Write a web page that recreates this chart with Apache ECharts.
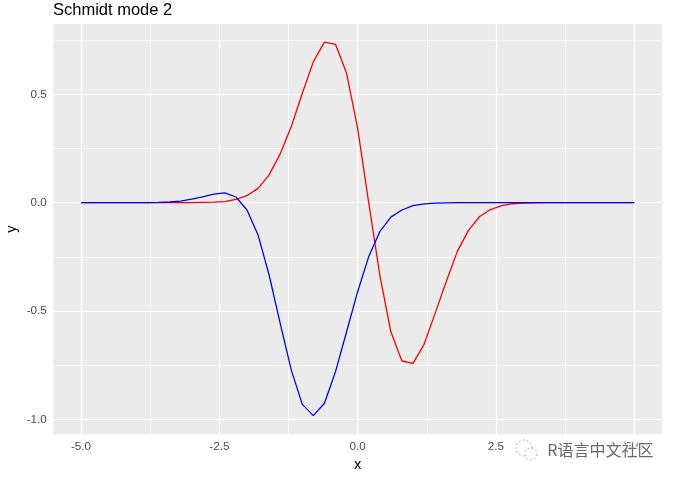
<!DOCTYPE html>
<html>
<head>
<meta charset="utf-8">
<script src="https://cdn.jsdelivr.net/npm/echarts@6/dist/echarts.min.js"></script>
<style>
html,body{margin:0;padding:0;background:#fff;}
#chart{width:674px;height:478px;}
</style>
</head>
<body>
<div id="chart"></div>
<script>
// x positions of the sampled points
var xValues = [-5.0,-4.8,-4.6,-4.4,-4.2,-4.0,-3.8,-3.6,-3.4,-3.2,-3.0,-2.8,-2.6,-2.4,-2.2,-2.0,-1.8,-1.6,-1.4,-1.2,-1.0,-0.8,-0.6,-0.4,-0.2,0.0,0.2,0.4,0.6,0.8,1.0,1.2,1.4,1.6,1.8,2.0,2.2,2.4,2.6,2.8,3.0,3.2,3.4,3.6,3.8,4.0,4.2,4.4,4.6,4.8,5.0];
// red curve
var redValues = [0,0,0,0,0,0,0,0,0,0,0.000,0.001,0.002,0.005,0.015,0.032,0.066,0.128,0.225,0.351,0.505,0.651,0.741,0.731,0.597,0.343,0.000,-0.334,-0.596,-0.731,-0.742,-0.654,-0.511,-0.365,-0.226,-0.129,-0.065,-0.032,-0.014,-0.005,-0.002,-0.001,0,0,0,0,0,0,0,0,0];
// blue curve
var blueValues = [0,0,0,0,0,0,0,0.001,0.003,0.007,0.016,0.027,0.039,0.045,0.026,-0.034,-0.149,-0.334,-0.557,-0.772,-0.931,-0.983,-0.926,-0.780,-0.596,-0.411,-0.249,-0.134,-0.067,-0.034,-0.014,-0.006,-0.002,-0.001,0,0,0,0,0,0,0,0,0,0,0,0,0,0,0,0,0];
// ticks
var xTicks = [-5, -2.5, 0, 2.5, 5];
var xMinor = [-3.75, -1.25, 1.25, 3.75];
var yTicks = [-1, -0.5, 0, 0.5];
var yMinor = [-0.75, -0.25, 0.25, 0.75];
var titleText = 'Schmidt mode 2';

function pairs(xs, ys){ return xs.map(function(x,i){ return [x, ys[i]]; }); }

var gridLines = [];
xTicks.forEach(function(v){ gridLines.push({xAxis: v, lineStyle:{width:1.2}}); });
xMinor.forEach(function(v){ gridLines.push({xAxis: v, lineStyle:{width:0.6}}); });
yTicks.forEach(function(v){ gridLines.push({yAxis: v, lineStyle:{width:1.2}}); });
yMinor.forEach(function(v){ gridLines.push({yAxis: v, lineStyle:{width:0.6}}); });

var chart = echarts.init(document.getElementById('chart'), null, {renderer:'canvas'});
var tickLabelStyle = {color:'#4d4d4d', fontSize:11.7, fontFamily:'Liberation Sans, Arial, sans-serif'};
chart.setOption({
  animation:false,
  backgroundColor:'#ffffff',
  title:{text:titleText, left:53, top:2, padding:0, textStyle:{fontSize:16.5, fontWeight:'normal', color:'#000', fontFamily:'Liberation Sans, Arial, sans-serif'}},
  grid:{left:53.3, right:12, top:24, bottom:43.7, show:true, backgroundColor:'#EBEBEB', borderWidth:0, containLabel:false, outerBoundsMode:'none'},
  xAxis:{type:'value', min:-5.5, max:5.5, name:'x', nameLocation:'middle', nameGap:23, nameMoveOverlap:false,
    nameTextStyle:{color:'#000', fontSize:14.7, fontFamily:'Liberation Sans, Arial, sans-serif'},
    axisLine:{show:false},
    axisTick:{show:true, customValues:xTicks, length:3.7, lineStyle:{color:'#333', width:1.07}},
    axisLabel:Object.assign({customValues:xTicks, margin:6, formatter:function(v){return v.toFixed(1);}}, tickLabelStyle),
    splitLine:{show:false}},
  yAxis:{type:'value', min:-1.0693, max:0.8246, name:'y', nameLocation:'middle', nameGap:34, nameRotate:90, nameMoveOverlap:false,
    nameTextStyle:{color:'#000', fontSize:14.7, fontFamily:'Liberation Sans, Arial, sans-serif'},
    axisLine:{show:false},
    axisTick:{show:true, customValues:yTicks, length:3.7, lineStyle:{color:'#333', width:1.07}},
    axisLabel:Object.assign({customValues:yTicks, margin:6.5, formatter:function(v){return v.toFixed(1);}}, tickLabelStyle),
    splitLine:{show:false}},
  series:[
    {type:'line', data:[], z:1, silent:true,
     markLine:{silent:true, z:1, symbol:['none','none'], label:{show:false}, animation:false,
       lineStyle:{color:'#ffffff', type:'solid'}, emphasis:{disabled:true}, data:gridLines}},
    {type:'line', data:pairs(xValues, redValues), showSymbol:false, z:6,
     lineStyle:{color:'#ff0000', width:1.3}, itemStyle:{color:'#ff0000'}},
    {type:'line', data:pairs(xValues, blueValues), showSymbol:false, z:7,
     lineStyle:{color:'#0000ff', width:1.3}, itemStyle:{color:'#0000ff'}}
  ],
  graphic:[
    {type:'circle', shape:{cx:524, cy:448, r:8}, style:{fill:'none', stroke:'#b0b0b0', lineWidth:1, lineDash:[2,2]}, z:10},
    {type:'circle', shape:{cx:531, cy:454, r:6}, style:{fill:'rgba(255,255,255,0.6)', stroke:'#b0b0b0', lineWidth:1, lineDash:[2,2]}, z:11},
    {type:'text', left:546, top:441, z:12, style:{text:'R语言中文社区', fill:'#6a6a6a', stroke:'rgba(255,255,255,0.9)', lineWidth:2.5, font:'16px "Noto Sans CJK SC", sans-serif'}}
  ]
});
</script>
</body>
</html>
